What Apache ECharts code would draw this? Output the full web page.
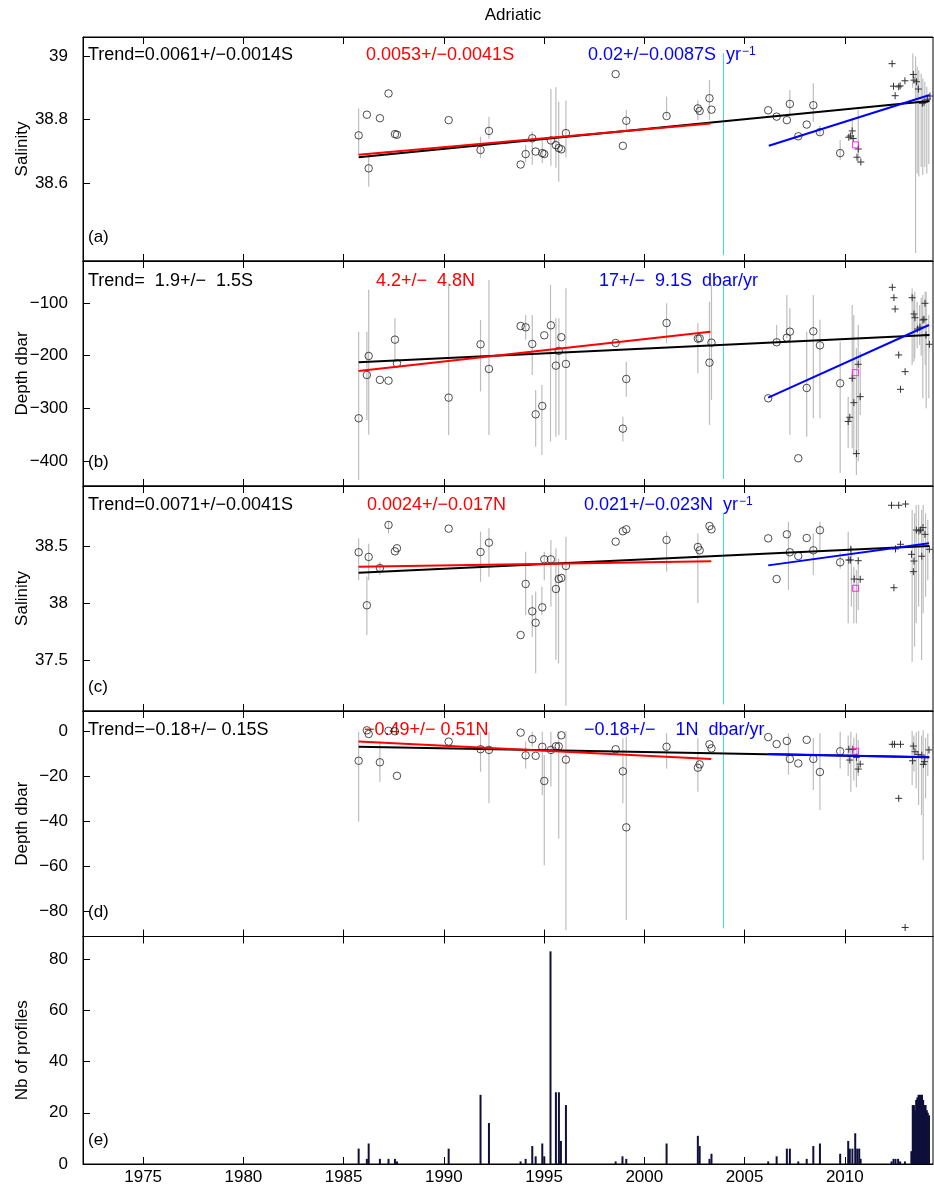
<!DOCTYPE html>
<html><head><meta charset="utf-8">
<script src="https://cdn.jsdelivr.net/npm/echarts@6/dist/echarts.min.js"></script>
<style>html,body{margin:0;padding:0;background:#fff}#c{width:934px;height:1192px}</style>
</head><body><div id="c"></div>
<script>
// ---------- DATA ----------
const xTicks = [1975, 1980, 1985, 1990, 1995, 2000, 2005, 2010];
const yTicksA = [38.6, 38.8, 39];
const yTicksB = [-400, -300, -200, -100];
const yTicksC = [37.5, 38, 38.5];
const yTicksD = [-80, -60, -40, -20, 0];
const yTicksE = [0, 20, 40, 60, 80];
const panelNames = ['Salinity', 'Depth dbar', 'Salinity', 'Depth dbar', 'Nb of profiles'];
const panelTags = ['(a)', '(b)', '(c)', '(d)', '(e)'];

// circle (older profiles) years, shared by panels a-d
const circleYears = [1985.75, 1986.16, 1986.25, 1986.81, 1987.24, 1987.56, 1987.66, 1990.24, 1991.83, 1992.25,
  1993.83, 1994.08, 1994.41, 1994.58, 1994.91, 1995.01, 1995.34, 1995.59, 1995.73, 1995.86,
  1996.09, 1998.57, 1998.93, 1999.10, 2001.11, 2002.67, 2002.76, 2003.25, 2003.35, 2006.18,
  2006.60, 2007.11, 2007.26, 2007.68, 2008.10, 2008.43, 2008.76, 2009.77];
const salA = [38.750, 38.815, 38.646, 38.804, 38.882, 38.754, 38.752, 38.798, 38.704, 38.764,
  38.658, 38.691, 38.741, 38.699, 38.694, 38.691, 38.734, 38.719, 38.710, 38.706,
  38.757, 38.943, 38.717, 38.796, 38.811, 38.835, 38.827, 38.867, 38.831, 38.829,
  38.809, 38.798, 38.849, 38.747, 38.784, 38.845, 38.760, 38.694];
const depthB = [-318.9, -236.7, -200.6, -246, -247.5, -169.6, -214.6, -279.7, -178.5, -225.3,
  -143.7, -146.2, -177.8, -311.4, -295.6, -161.4, -142.4, -219, -191, -165,
  -215.8, -176, -338.6, -244.3, -138, -167.7, -167, -213.3, -175.3, -281,
  -174.6, -165.9, -154.5, -394.9, -261.4, -153.8, -180.4, -252.5];
const salC = [38.445, 37.98, 38.404, 38.307, 38.684, 38.453, 38.48, 38.652, 38.447, 38.529,
  37.719, 38.167, 37.927, 37.827, 37.962, 38.383, 38.383, 38.123, 38.21, 38.22,
  38.325, 38.538, 38.629, 38.646, 38.553, 38.491, 38.462, 38.675, 38.646, 38.567,
  38.21, 38.602, 38.445, 38.412, 38.57, 38.462, 38.638, 38.357];
const depthD = [-13.2, 0.3, -1.3, -13.9, 0.1, -0.1, -19.9, -4.7, -8.1, -8.4,
  -0.7, -10.8, -3.6, -11.0, -7.0, -22.2, -8.4, -6.8, -6.8, -1.9,
  -12.7, -8.1, -17.9, -42.8, -7.0, -16.3, -14.8, -5.9, -7.7, -2.7,
  -5.8, -4.4, -12.4, -14.4, -3.9, -12.4, -18.2, -9.0];

// plus (recent profiles)
const plusYearsA = [2010.20, 2010.28, 2010.37, 2010.42, 2010.61, 2010.67, 2010.80, 2012.36, 2012.43, 2012.51, 2012.69, 2012.76, 2013.00, 2013.42, 2013.45, 2013.58, 2013.67, 2013.87, 2013.95, 2014.12, 2014.25];
const plusSalA = [38.744, 38.748, 38.764, 38.740, 38.681, 38.707, 38.666, 38.976, 38.905, 38.875, 38.903, 38.906, 38.922, 38.942, 38.924, 38.919, 38.896, 38.851, 38.854, 38.864, 38.874];
const plusYearsB = [2010.17, 2010.25, 2010.37, 2010.45, 2010.58, 2010.67, 2010.77, 2012.37, 2012.45, 2012.51, 2012.69, 2012.78, 2013.01, 2013.36, 2013.45, 2013.50, 2013.63, 2013.75, 2013.90, 2013.95, 2014.00, 2014.05, 2014.22];
const plusDepthB = [-325, -317, -243, -289.3, -386, -216.4, -277.9, -70.2, -90, -111.4, -198.7, -263.9, -230.4, -90, -120.9, -128, -149.4, -146, -132.3, -131, -100.6, -160.8, -178.4];
const plusYearsC = [2010.20, 2010.28, 2010.30, 2010.47, 2010.67, 2010.77, 2012.33, 2012.45, 2012.53, 2012.69, 2012.78, 2013.03, 2013.33, 2013.42, 2013.45, 2013.57, 2013.70, 2013.78, 2013.84, 2013.90, 2014.00, 2014.22];
const plusSalC = [38.377, 38.377, 38.471, 38.21, 38.371, 38.208, 38.857, 38.134, 38.474, 38.857, 38.515, 38.868, 38.427, 38.275, 38.368, 38.64, 38.632, 38.64, 38.41, 38.661, 38.602, 38.471];
const plusYearsD = [2010.20, 2010.25, 2010.40, 2010.58, 2010.67, 2010.77, 2012.37, 2012.48, 2012.69, 2012.78, 2013.01, 2013.38, 2013.42, 2013.50, 2013.65, 2013.84, 2013.92, 2013.97, 2014.20];
const plusDepthD = [-8.1, -12.9, -8.1, -11.7, -16.9, -14.7, -5.9, -5.9, -29.9, -5.9, -87.3, -13.2, -6.7, -9.2, -10.4, -10.7, -14.8, -13.6, -8.4];

// magenta square (one profile)
const squareYear = 2010.53;
const squareVals = [38.720, -232.3, 38.129, -9.0];

// error bars (vertical ranges)
const errYearsA = [1985.75, 1986.25, 1991.83, 1992.25, 1994.08, 1994.41, 1994.91, 1995.34, 1995.59, 1995.73, 1996.09, 1999.10, 2001.11, 2002.67, 2003.25, 2007.26, 2008.43, 2008.76, 2009.77, 2010.37, 2010.67, 2013.39, 2013.53, 2013.61, 2013.69, 2013.81, 2013.89, 2013.99, 2014.09, 2014.19];
const errLoA = [38.688, 38.588, 38.678, 38.739, 38.665, 38.657, 38.663, 38.654, 38.648, 38.604, 38.68, 38.767, 38.809, 38.798, 38.798, 38.809, 38.793, 38.75, 38.672, 38.735, 38.662, 38.90, 38.379, 38.63, 38.62, 38.65, 38.625, 38.65, 38.63, 38.66];
const errHiA = [38.835, 38.683, 38.746, 38.809, 38.72, 38.762, 38.735, 38.896, 38.902, 38.856, 38.86, 38.83, 38.872, 38.861, 38.924, 38.893, 38.914, 38.78, 38.735, 38.804, 38.83, 39.008, 38.998, 38.966, 38.955, 38.945, 38.929, 38.919, 38.903, 38.872];

const errYearsB = [1985.75, 1986.16, 1986.25, 1987.56, 1990.24, 1991.83, 1992.25, 1994.08, 1994.41, 1994.58, 1994.89, 1995.32, 1995.59, 1995.74, 1996.09, 1998.93, 1999.10, 2001.11, 2002.67, 2003.25, 2003.35, 2006.60, 2007.11, 2007.26, 2008.10, 2008.43, 2008.76, 2009.77, 2010.17, 2010.37, 2010.45, 2010.58, 2010.67, 2010.77, 2013.36, 2013.45, 2013.49, 2013.61, 2013.73, 2013.81, 2013.89, 2014.01, 2014.06, 2014.19];
const errLoB = [-436, -322, -350, -211, -350.6, -268, -350.6, -170, -236.7, -372.8, -388.6, -363, -353.8, -350.6, -360, -363, -278, -176.5, -233.5, -331.6, -284, -176, -167, -350, -353.8, -318.9, -318.9, -423, -375.8, -375.8, -388.6, -426.6, -401, -312.6, -217.7, -211.4, -205, -186, -179.7, -200, -281, -217.7, -300, -281];
const errHiB = [-154.5, -154.5, -75, -129, -62.6, -132, -56.3, -123, -122.8, -265, -255.7, -65.8, -129, -129, -72, -316, -211.4, -100.6, -138.5, -97.5, -65.8, -142, -84.8, -110, -154.5, -84.8, -132, -173.5, -277.9, -103.8, -122.8, -186, -141.8, -192.5, -72.1, -84.8, -78.5, -97.5, -103.8, -90, -84.8, -78.5, -78.5, -122.8];

const errYearsC = [1985.75, 1986.16, 1986.25, 1986.81, 1987.24, 1991.83, 1992.25, 1994.08, 1994.41, 1994.58, 1994.89, 1995.01, 1995.34, 1995.59, 1995.72, 1996.09, 2001.11, 2002.67, 2007.19, 2008.43, 2008.76, 2009.77, 2010.17, 2010.33, 2010.45, 2010.58, 2010.67, 2013.36, 2013.48, 2013.56, 2013.68, 2013.83, 2013.91, 2014.03, 2014.14];
const errLoC = [38.2, 37.72, 38.2, 38.246, 38.61, 38.187, 38.23, 37.895, 37.705, 37.383, 37.895, 38.2, 37.967, 37.5, 37.47, 37.1, 38.275, 37.997, 38.114, 38.246, 38.45, 38.3, 37.822, 37.968, 37.822, 37.822, 37.939, 37.485, 37.617, 37.822, 37.968, 37.5, 37.91, 38.055, 38.2];
const errHiC = [38.568, 38.23, 38.52, 38.36, 38.72, 38.625, 38.655, 38.45, 38.07, 38.1, 38.143, 38.45, 38.553, 38.48, 38.39, 38.58, 38.625, 38.61, 38.713, 38.61, 38.713, 38.44, 38.625, 38.494, 38.318, 38.289, 38.348, 38.816, 38.787, 38.86, 38.86, 38.816, 38.86, 38.787, 38.728];

const errYearsD = [1985.75, 1986.81, 1991.83, 1992.25, 1994.08, 1994.41, 1994.91, 1995.01, 1995.34, 1995.73, 1996.09, 1998.93, 1999.10, 2001.11, 2002.67, 2007.19, 2008.43, 2008.76, 2009.77, 2010.17, 2010.30, 2010.45, 2010.58, 2010.67, 2013.36, 2013.45, 2013.56, 2013.68, 2013.83, 2013.91, 2014.03, 2014.14];
const errLoD = [-40.3, -22.5, -18.1, -32.1, -16.6, -7, -28.4, -59.6, -24.7, -47.7, -88.4, -32.1, -84, -16.6, -27, -19.4, -26.2, -35.1, -16.6, -20, -27, -22, -25, -20, -24, -18, -25.5, -32.9, -37.3, -57.3, -30, -20];
const errHiD = [-0.3, -4.7, -0.3, -0.3, -4.7, -0.3, -0.3, -10.7, -0.3, -0.3, 0, -3.2, -2.5, -1, -3.2, -1, -3.2, -1, -0.3, -2, -0.3, -3, -1, -4, 0, -2, -0.5, 0, -2, 0.4, -3, -1];

// trend lines: [x0, y0, x1, y1]
const trendBlack = [[1985.75, 38.681, 2014.23, 38.858], [1985.75, -212.6, 2014.22, -160.8], [1985.75, 38.266, 2014.22, 38.5], [1985.75, -7.0, 2014.22, -11.7]];
const trendRed = [[1985.75, 38.689, 2003.3, 38.787], [1985.75, -229.1, 2003.3, -154.5], [1985.75, 38.318, 2003.34, 38.366], [1985.75, -4.7, 2003.34, -12.4]];
const trendBlue = [[2006.21, 38.717, 2014.23, 38.877], [2006.18, -279.8, 2014.2, -141.8], [2006.18, 38.33, 2014.2, 38.524], [2006.18, -10.2, 2014.2, -11.6]];
const cyanYear = 2003.95;
const cyanRange = [[38.372, 39.009], [-434, -65.8], [37.11, 38.79], [-87.7, -1.8]];

// annotation texts
const trendText = ['Trend=0.0061+/\u22120.0014S', 'Trend=  1.9+/\u2212  1.5S', 'Trend=0.0071+/\u22120.0041S', 'Trend=\u22120.18+/\u2212 0.15S'];
const redText = ['0.0053+/\u22120.0041S', '4.2+/\u2212  4.8N', '0.0024+/\u22120.017N', '\u22120.49+/\u2212 0.51N'];
const blueText = ['0.02+/\u22120.0087S  yr', '17+/\u2212  9.1S  dbar/yr', '0.021+/\u22120.023N  yr', '\u22120.18+/\u2212    1N  dbar/yr'];
const blueSup = ['\u22121', '', '\u22121', ''];

// profile counts
const barYears = [1985.75, 1986.16, 1986.25, 1986.81, 1987.24, 1987.56, 1987.66, 1990.24, 1991.83, 1992.25,
  1993.83, 1994.08, 1994.41, 1994.58, 1994.91, 1995.01, 1995.32, 1995.59, 1995.74, 1995.84,
  1996.09, 1998.57, 1998.91, 1999.10, 2001.11, 2002.67, 2002.76, 2003.25, 2003.35, 2006.18,
  2006.60, 2007.11, 2007.26, 2007.68, 2008.10, 2008.43, 2008.76, 2009.77, 2010.17, 2010.25,
  2010.38, 2010.52, 2010.62, 2010.72, 2010.79, 2012.33, 2012.43, 2012.53, 2012.66, 2012.76,
  2013.00, 2013.32, 2013.39, 2013.45, 2013.50, 2013.56, 2013.62, 2013.68, 2013.74, 2013.79,
  2013.85, 2013.91, 2013.97, 2014.03, 2014.09, 2014.14, 2014.20];
const barCounts = [6, 2, 8, 2, 2, 2, 1, 6, 27, 16,
  1, 2, 7, 3, 8, 3, 83, 28, 28, 9,
  23, 1, 3, 2, 8, 11, 7, 2, 4, 1,
  3, 6, 6, 1, 2, 7, 8, 4, 9, 6,
  6, 12, 6, 6, 2, 1, 2, 2, 2, 1,
  1, 5, 23, 23, 21, 25, 26, 27, 27, 27,
  27, 25, 23, 23, 21, 20, 19];

// ---------- LAYOUT ----------
const FONT = 'Liberation Sans, Arial, sans-serif';
const X_MIN = 1972, X_MAX = 2014.4;
const gridTops = [37, 261, 486, 711, 936.5];
const gridHeights = [224, 225, 225, 225.5, 227.5];
const yRanges = [[38.354, 39.06], [-447.5, -20.3], [37.053, 39.026], [-91.3, 8.9], [0, 88.8]];
const yTicks = [yTicksA, yTicksB, yTicksC, yTicksD, yTicksE];

const grids = [], xAxes = [], yAxes = [], series = [], graphics = [];
for (let i = 0; i < 5; i++) {
  grids.push({left: 83, width: 850, top: gridTops[i], height: gridHeights[i], show: true, borderColor: '#000', borderWidth: 1, backgroundColor: 'transparent'});
  for (const pos of ['bottom', 'top']) {
    xAxes.push({
      gridIndex: i, type: 'value', position: pos, min: X_MIN, max: X_MAX,
      axisLine: {show: true, onZero: false, lineStyle: {color: '#000', width: 1}},
      axisTick: {show: true, inside: true, length: 7, customValues: xTicks, lineStyle: {color: '#000'}},
      axisLabel: {show: (i === 4 && pos === 'bottom'), customValues: xTicks, margin: 5, fontSize: 17, fontFamily: FONT, color: '#000',
        formatter: v => String(v)},
      splitLine: {show: false}
    });
  }
  yAxes.push({
    gridIndex: i, type: 'value', min: yRanges[i][0], max: yRanges[i][1],
    name: panelNames[i], nameLocation: 'middle', nameGap: 52, nameMoveOverlap: false,
    nameTextStyle: {fontSize: 17, fontFamily: FONT, color: '#000'},
    axisLine: {show: true, onZero: false, lineStyle: {color: '#000', width: 1}},
    axisTick: {show: true, inside: true, length: 7, customValues: yTicks[i], lineStyle: {color: '#000'}},
    axisLabel: {customValues: yTicks[i], margin: 15, fontSize: 17, fontFamily: FONT, color: '#000',
      formatter: v => String(v).replace('-', '\u2212')},
    splitLine: {show: false}
  });
  graphics.push({type: 'text', x: 88, y: gridTops[i] + gridHeights[i] - 24, style: {text: panelTags[i], fontSize: 17, fontFamily: FONT, fill: '#000', verticalAlign: 'middle'}});
}

function errSeries(i, yrs, lo, hi) {
  return {type: 'custom', xAxisIndex: 2 * i, yAxisIndex: i, silent: true, z: 1, clip: true,
    data: yrs.map((x, k) => [x, lo[k], hi[k]]),
    renderItem: (p, api) => {
      const a = api.coord([api.value(0), api.value(1)]);
      const b = api.coord([api.value(0), api.value(2)]);
      return {type: 'line', shape: {x1: a[0], y1: a[1], x2: b[0], y2: b[1]}, style: {stroke: '#bdbdbd', lineWidth: 1.2}};
    }};
}
function circleSeries(i, vals) {
  return {type: 'scatter', xAxisIndex: 2 * i, yAxisIndex: i, silent: true, z: 3, symbol: 'circle', symbolSize: 7.5,
    itemStyle: {color: 'rgba(0,0,0,0)', borderColor: '#222', borderWidth: 1},
    data: circleYears.map((x, k) => [x, vals[k]])};
}
function plusSeries(i, yrs, vals) {
  return {type: 'custom', xAxisIndex: 2 * i, yAxisIndex: i, silent: true, z: 3,
    data: yrs.map((x, k) => [x, vals[k]]),
    renderItem: (p, api) => {
      const c = api.coord([api.value(0), api.value(1)]);
      const s = {stroke: '#333', lineWidth: 1};
      return {type: 'group', children: [
        {type: 'line', shape: {x1: c[0] - 3.5, y1: c[1], x2: c[0] + 3.5, y2: c[1]}, style: s},
        {type: 'line', shape: {x1: c[0], y1: c[1] - 3.5, x2: c[0], y2: c[1] + 3.5}, style: s}
      ]};
    }};
}
function segSeries(i, seg, color, width, z) {
  return {type: 'line', xAxisIndex: 2 * i, yAxisIndex: i, silent: true, z: z, showSymbol: false, symbol: 'none',
    lineStyle: {color: color, width: width}, data: [[seg[0], seg[1]], [seg[2], seg[3]]]};
}

const plusY = [plusYearsA, plusYearsB, plusYearsC, plusYearsD];
const plusV = [plusSalA, plusDepthB, plusSalC, plusDepthD];
const circV = [salA, depthB, salC, depthD];
const errY = [errYearsA, errYearsB, errYearsC, errYearsD];
const errL = [errLoA, errLoB, errLoC, errLoD];
const errH = [errHiA, errHiB, errHiC, errHiD];
const textY = [55, 281, 505, 730];
const redX = [366, 376, 367, 364];
const blueX = [588, 599, 584, 584];

for (let i = 0; i < 4; i++) {
  series.push(errSeries(i, errY[i], errL[i], errH[i]));
  series.push(segSeries(i, [cyanYear, cyanRange[i][0], cyanYear, cyanRange[i][1]], '#33e0ee', 1, 2));
  series.push(circleSeries(i, circV[i]));
  series.push(plusSeries(i, plusY[i], plusV[i]));
  series.push({type: 'scatter', xAxisIndex: 2 * i, yAxisIndex: i, silent: true, z: 4, symbol: 'rect', symbolSize: 6,
    itemStyle: {color: 'rgba(0,0,0,0)', borderColor: '#ff00ff', borderWidth: 1}, data: [[squareYear, squareVals[i]]]});
  series.push(segSeries(i, trendBlack[i], '#000', 2, 5));
  series.push(segSeries(i, trendRed[i], '#ff0000', 2, 6));
  series.push(segSeries(i, trendBlue[i], '#0000ff', 2, 6));

  graphics.push({type: 'text', x: 88, y: textY[i], style: {text: trendText[i], fontSize: 18, fontFamily: FONT, fill: '#000', verticalAlign: 'middle'}});
  graphics.push({type: 'text', x: redX[i], y: textY[i], style: {text: redText[i], fontSize: 18, fontFamily: FONT, fill: '#ff0000', verticalAlign: 'middle'}});
  graphics.push({type: 'text', x: blueX[i], y: textY[i], style: {
    text: '{a|' + blueText[i] + '}' + (blueSup[i] ? '{b|' + blueSup[i] + '}' : ''),
    rich: {a: {fontSize: 18, fontFamily: FONT, fill: '#0000ff', verticalAlign: 'bottom'},
           b: {fontSize: 12, fontFamily: FONT, fill: '#0000ff', verticalAlign: 'top', padding: [0, 0, 0, 1]}},
    verticalAlign: 'middle'}});
}

series.push({type: 'bar', xAxisIndex: 8, yAxisIndex: 4, silent: true, barWidth: 2,
  itemStyle: {color: '#0f0f3c'}, data: barYears.map((x, k) => [x, barCounts[k]])});

graphics.push({type: 'text', x: 513, y: 15, style: {text: 'Adriatic', fontSize: 17, fontFamily: FONT, fill: '#000', align: 'center', verticalAlign: 'middle'}});

const chart = echarts.init(document.getElementById('c'), null, {renderer: 'canvas'});
chart.setOption({
  animation: false, backgroundColor: '#fff',
  grid: grids, xAxis: xAxes, yAxis: yAxes, series: series, graphic: graphics
});
</script></body></html>
